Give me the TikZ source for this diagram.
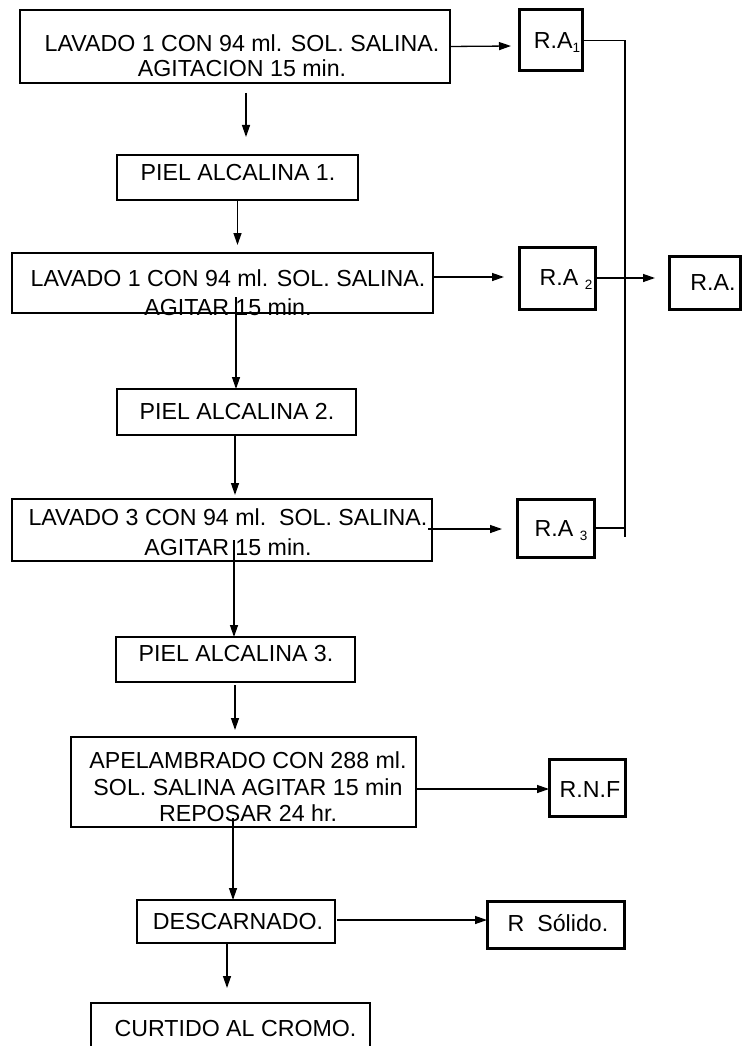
\documentclass[tikz,border=0pt]{standalone}
\usepackage{fontspec}
\setmainfont{Liberation Sans}
\usetikzlibrary{arrows.meta}
\newcommand{\sbs}[1]{\raisebox{-4pt}{\fontsize{13.5}{13.5}\selectfont #1}}
\begin{document}
\begin{tikzpicture}[x=1pt,y=-1pt,
  box/.style={draw,line width=1.4pt,inner sep=0pt,outer sep=0pt},
  rbox/.style={draw,line width=3pt,inner sep=0pt,outer sep=0pt},
  txt/.style={inner sep=0pt,align=center,font=\fontsize{23.2}{27}\selectfont},
  one/.style={txt,text height=16.8pt,text depth=0pt},
  arr/.style={line width=1.3pt,-{Triangle[length=12pt,width=8pt]}},
  ln/.style={line width=1.3pt}]
\useasboundingbox (0,0) rectangle (742,1046);
\clip (0,0) rectangle (742,1046);
% boxes
\node[box,minimum width=430pt,minimum height=73pt] (b1) at (235,46.5) {};
\node[rbox,minimum width=63pt,minimum height=61pt] (ra1) at (550.5,40.5) {};
\node[box,minimum width=241pt,minimum height=45pt] (p1) at (237.5,177.5) {};
\node[box,minimum width=421pt,minimum height=60pt] (b2) at (222.5,283) {};
\node[rbox,minimum width=76pt,minimum height=62pt] (ra2) at (557,278) {};
\node[rbox,minimum width=71pt,minimum height=53pt] (ra) at (704.5,282.5) {};
\node[box,minimum width=239pt,minimum height=46pt] (p2) at (236.5,412) {};
\node[box,minimum width=420pt,minimum height=62pt] (b3) at (222,530) {};
\node[rbox,minimum width=77pt,minimum height=58pt] (ra3) at (555.5,528) {};
\node[box,minimum width=239pt,minimum height=45pt] (p3) at (235.5,659.5) {};
\node[box,minimum width=345pt,minimum height=90pt] (ap) at (243.5,782) {};
\node[rbox,minimum width=76pt,minimum height=57pt] (rnf) at (587,787.5) {};
\node[box,minimum width=198pt,minimum height=43pt] (de) at (236,921.5) {};
\node[rbox,minimum width=137pt,minimum height=47pt] (rs) at (555.5,924.5) {};
\node[box,minimum width=279pt,minimum height=56pt] (cu) at (230.5,1031) {};
% texts
\node[txt,font=\fontsize{23.2}{25}\selectfont] (b1t) at (242,56) {LAVADO 1 CON 94 ml. SOL. SALINA.\\AGITACION 15 min.};
\node[txt,font=\fontsize{23.2}{29}\selectfont] (b2t) at (228,292.5) {LAVADO 1 CON 94 ml. SOL. SALINA.\\AGITAR 15 min.};
\node[txt,font=\fontsize{23.2}{30}\selectfont] (b3t) at (228,532) {LAVADO 3 CON 94 ml.~~SOL. SALINA.\\AGITAR 15 min.};
\node[txt,font=\fontsize{23.2}{26.5}\selectfont] (apt) at (248,787) {APELAMBRADO CON 288 ml.\\SOL. SALINA AGITAR 15 min\\REPOSAR 24 hr.};
\node[one] (p1t) at (238,172) {PIEL ALCALINA 1.};
\node[one] (p2t) at (237,411) {PIEL ALCALINA 2.};
\node[one] (p3t) at (236,653) {PIEL ALCALINA 3.};
\node[one] (det) at (238,921) {DESCARNADO.};
\node[one] (rst) at (558,923) {R~~Sólido.};
\node[one] (cut) at (235.5,1028) {CURTIDO AL CROMO.};
\node[one] (rnft) at (590,789) {R.N.F};
\node[one] (ra1t) at (557,40) {R.A\sbs{1}};
\node[one] (ra2t) at (566,277) {R.A \sbs{2}};
\node[one] (rat) at (713,282) {R.A.};
\node[one] (ra3t) at (561,528) {R.A \sbs{3}};
% collector line
\coordinate (bus3) at (625,537);
\draw[ln] (ra1.east) -| (bus3);
\draw[ln] (ra3.east) -- (ra3.east -| bus3);
% connectors
\draw[arr] ([shift={(-1,0)}]b1.east) -- ([shift={(-8,5.5)}]ra1.west);
\draw[arr] ([shift={(11,10)}]b1.south) -- ([shift={(8.5,-18)}]p1.north);
\draw[arr] (p1.south) -- ([shift={(15,-8)}]b2.north);
\draw[arr] ([shift={(0,-6)}]b2.east) -- ([shift={(-15,-1)}]ra2.west);
\draw[arr] (ra2.east) -- ([shift={(-14,-4.5)}]ra.west);
\draw[arr] ([shift={(13.5,-16)}]b2.south) -- ([shift={(-0.5,0)}]p2.north);
\draw[arr] ([shift={(-1.5,0)}]p2.south) -- ([shift={(13,-4)}]b3.north);
\draw[arr] ([shift={(-4,-1)}]b3.east) -- ([shift={(-15,1)}]ra3.west);
\draw[arr] ([shift={(12,-21)}]b3.south) -- ([shift={(-1.5,0)}]p3.north);
\draw[arr] ([shift={(-0.5,3)}]p3.south) -- ([shift={(-8.5,-7)}]ap.north);
\draw[arr] ([shift={(0,7)}]ap.east) -- ([shift={(0,1.5)}]rnf.west);
\draw[arr] ([shift={(-10.5,-9)}]ap.south) -- ([shift={(-3,0)}]de.north);
\draw[arr] ([shift={(2,-1.5)}]de.east) -- ([shift={(0,-4.5)}]rs.west);
\draw[arr] ([shift={(-9,0)}]de.south) -- ([shift={(-3.5,-15)}]cu.north);
\end{tikzpicture}
\end{document}
